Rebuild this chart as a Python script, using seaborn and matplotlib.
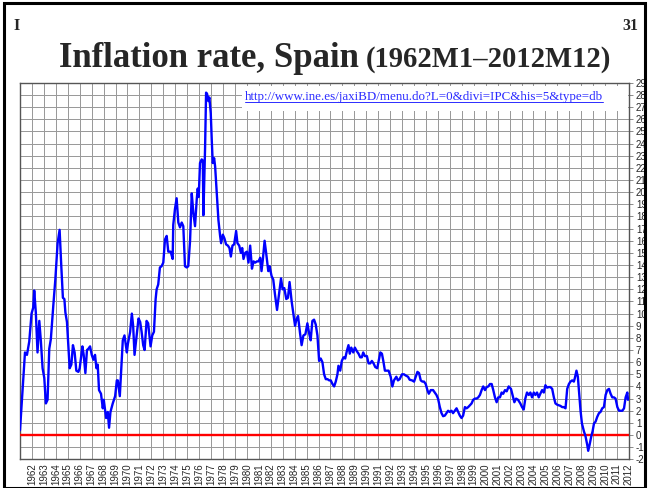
import matplotlib
matplotlib.use("Agg")
import matplotlib.pyplot as plt
import seaborn as sns
import pandas as pd
from matplotlib.patches import Rectangle
from matplotlib.lines import Line2D

# months since 1962M1 (vertices) and inflation rate, %
months = [
    0, 5, 7, 9.3, 11.6, 13.3, 14.3, 15.9, 17.6, 19.4, 21.0, 22.7, 24.4, 26.0, 27.7, 29.4,
    31.0, 33.5, 35.5, 37.8, 39.8, 41.5, 43.1, 44.6, 45.6, 47.2, 49.9, 51.6, 53.2, 54.9,
    56.6, 58.7, 60.0, 62.7, 64.0, 65.7, 67.3, 68.7, 70.4, 72.1, 73.8, 75.4, 76.8, 78.1,
    79.4, 81.4, 83.2, 84.2, 86.5, 88.2, 89.5, 90.9, 93.2, 95.6, 97.3, 98.3, 100.3, 103.3,
    105.0, 107.4, 108.4, 110.7, 112.4, 113.7, 115.1, 117.1, 119.1, 120.8,
    122.2, 123.8, 125.2, 127.2, 128.8, 131.2, 132.9, 134.6, 136.3, 137.3, 138.9, 140.6,
    142.3, 144.0, 145.7, 147.4, 149.0, 151.4, 153.4, 154.0, 155.7, 157.4, 159.1, 160.8,
    162.5, 164.1, 165.8, 167.5, 169.1, 170.9, 172.6, 174.2, 175.9, 177.6, 178.6, 179.6,
    180.9, 182.6, 183.7, 184.3, 186.0, 187.0, 188.0, 189.3, 190.3, 191.7, 192.7, 193.7,
    195.1, 196.1, 197.8, 199.4, 201.1, 202.1, 203.8, 205.4, 207.1, 208.9, 210.5, 211.9,
    213.5, 215.2, 217.2, 218.5, 220.3, 222.0, 223.3, 224.6, 226.3, 228.0, 229.6, 231.3,
    233.1, 234.7, 236.4, 238.1, 239.7, 241.4, 242.7, 244.1,
    245.8, 247.5, 249.5, 250.8, 252.8, 254.5, 256.2, 258.3, 260.3, 262.3, 263.9, 265.6,
    267.6, 269.3, 270.9, 273.0, 275.0, 276.4, 277.7, 279.4, 281.4, 283.0, 284.8, 286.8,
    288.8, 290.5, 292.1, 293.8, 295.5, 297.2, 298.9, 300.6, 302.2, 303.9, 305.6, 307.3,
    309.0, 310.7, 312.3, 314.0, 315.7, 317.3, 319.0, 320.0, 321.8, 323.4, 325.1, 326.8,
    328.4, 330.1, 331.4, 332.9, 334.9, 336.5, 338.5, 340.2, 341.9, 343.5, 344.9, 346.6,
    348.6, 350.3, 352.0, 353.6, 355.3, 357.0, 359.0, 360.4, 362.1, 363.7, 365.1, 366.7,
    368.1, 370.4, 372.5, 374.2, 375.8, 378.2, 379.8, 381.5, 383.9, 385.9, 387.6, 389.9,
    391.6, 394.0, 396.0, 397.7, 399.4, 401.0, 402.7, 404.4, 406.0, 407.7, 409.4, 410.8,
    412.8, 415.1, 416.8, 418.5, 420.1, 421.9, 423.6, 425.2, 426.9, 428.6, 430.2, 431.9,
    433.6, 435.2, 437.0, 438.7, 440.3, 442.0, 443.7, 445.3, 447.1, 448.8, 450.4, 452.1,
    453.8, 455.4, 457.2, 458.9, 460.5, 462.2, 463.9, 465.5, 467.3, 469.0, 470.6, 472.3,
    474.0, 475.6, 477.3, 479.0, 480.6, 482.3, 484.0, 485.6, 487.4, 489.1,
    491.1, 493.4, 495.5, 496.8, 498.5, 500.5, 502.8, 504.5, 506.2, 507.8, 509.5, 511.3,
    512.9, 514.6, 516.3, 517.9, 519.6, 521.3, 522.9, 524.7, 526.4, 528.0, 529.7, 531.4,
    533.0, 534.8, 536.5, 538.1, 539.8, 541.5, 543.1, 544.8, 546.5, 548.2, 549.9, 551.6,
    553.2, 554.9, 556.6, 557.6, 559.2, 560.6, 562.0, 563.3, 564.7, 566.7, 568.3, 570.0,
    571.0, 572.4, 574.1, 575.4, 576.8, 578.4, 580.1, 581.8, 583.4, 585.1, 586.8, 588.5,
    590.2, 591.9, 593.5, 595.2, 596.9, 598.5, 600.3, 602.0, 603.6, 605.3, 607.0, 608.6,
    610.3, 611,
]
rate = [
    0.4, 6.8, 6.6, 7.7, 10.0, 10.5, 11.9, 10.1, 6.8, 9.4, 7.7, 5.5, 4.7, 2.6, 2.9, 7.1,
    7.9, 10.7, 12.8, 15.8, 16.9, 13.9, 11.3, 11.2, 10.1, 9.3, 5.5, 5.8, 7.4, 6.8,
    5.3, 5.2, 5.5, 7.3, 6.6, 5.1, 7.0, 7.1, 7.3, 6.6, 6.2, 6.6, 5.5, 5.8,
    3.7, 3.4, 2.2, 2.9, 1.4, 1.9, 0.6, 1.9, 2.6, 3.2, 4.5, 4.5, 3.2, 7.8,
    8.2, 6.8, 7.5, 8.5, 10.0, 9.0, 6.6, 8.1, 9.6, 9.3,
    8.5, 7.4, 7.0, 9.4, 9.2, 7.3, 8.2, 8.5, 11.2, 12.0, 12.4, 13.8,
    13.9, 14.2, 16.1, 16.4, 15.1, 15.1, 14.5, 17.3, 18.6, 19.5, 17.5, 17.1,
    17.5, 17.2, 13.9, 13.8, 13.9, 16.0, 19.9, 18.3, 17.2, 19.4, 20.3, 19.6,
    22.4, 22.7, 22.6, 18.1, 23.7, 28.2, 28.1, 27.5, 27.8, 26.5, 24.3, 22.4,
    22.8, 22.1, 19.9, 17.7, 16.4, 15.8, 16.5, 16.2, 15.7, 15.6, 15.4, 14.7,
    15.6, 15.7, 16.8, 15.8, 15.6, 15.0, 15.4, 14.5, 15.0, 15.1, 14.2, 15.6,
    13.7, 14.3, 14.2, 14.3, 14.3, 14.6, 13.5, 14.5,
    16.0, 14.9, 13.5, 13.9, 13.1, 12.8, 11.6, 10.3, 11.6, 12.9, 12.0, 12.1,
    11.2, 11.3, 12.6, 11.0, 9.8, 9.0, 9.5, 9.8, 8.4, 7.4, 8.2, 8.3,
    9.2, 8.4, 7.8, 9.4, 9.5, 9.1, 8.2, 6.1, 6.3, 6.0, 5.0, 4.6,
    4.6, 4.5, 4.5, 4.2, 4.0, 4.4, 5.0, 5.7, 5.3, 6.1, 6.4, 6.3,
    6.9, 7.4, 6.7, 7.2, 6.8, 7.2, 6.9, 6.7, 6.4, 6.4, 6.8, 6.5,
    6.5, 5.9, 5.9, 6.1, 5.9, 5.6, 5.5, 6.1, 6.8, 6.7, 6.1, 5.3,
    5.3, 5.3, 4.8, 4.0, 4.5, 4.8, 4.5, 4.6, 5.0, 5.0, 4.9, 4.8,
    4.55, 4.5, 4.4, 4.8, 5.2, 5.1, 4.5, 4.4, 4.4, 4.2, 3.7, 3.4,
    3.7, 3.7, 3.5, 3.3, 3.0, 2.3, 1.8, 1.55, 1.6, 1.8, 2.0, 1.9,
    2.0, 1.8, 2.0, 2.2, 1.9, 1.6, 1.4, 1.6, 2.3, 2.2, 2.3, 2.45,
    2.6, 2.9, 3.0, 3.0, 3.1, 3.3, 3.7, 4.0, 3.7, 3.95, 4.0, 4.2,
    4.2, 3.7, 3.1, 2.7, 3.1, 3.1, 3.5, 3.4, 3.7, 3.6,
    4.0, 3.8, 3.1, 2.7, 3.0, 2.9, 2.6, 2.3, 2.1, 3.0, 3.5, 3.3,
    3.5, 3.1, 3.5, 3.3, 3.5, 3.1, 3.4, 3.7, 3.5, 4.1, 3.9, 3.95,
    3.95, 3.8, 3.1, 2.6, 2.5, 2.45, 2.4, 2.3, 2.3, 2.2, 3.8, 4.2,
    4.4, 4.5, 4.4, 4.7, 5.3, 4.8, 3.4, 2.0, 0.95, 0.3, -0.1, -0.8,
    -1.3, -0.8, -0.1, 0.3, 0.95, 1.1, 1.5, 1.8, 1.9, 2.2, 2.3, 3.3,
    3.7, 3.8, 3.4, 3.1, 3.1, 3.0, 2.3, 2.0, 2.0, 2.0, 2.2, 3.1,
    3.5, 2.9,
]
years = list(range(1962, 2013))
y_values = list(range(-2, 30))
url = "http://www.ine.es/jaxiBD/menu.do?L=0&divi=IPC&his=5&type=db"

df = pd.DataFrame({"month": months, "rate": rate})

sns.set_style("white")
plt.rcParams["font.family"] = ["Liberation Sans", "DejaVu Sans"]

W, H = 648, 488
fig = plt.figure(figsize=(W / 100, H / 100), dpi=100)
fig.patch.set_facecolor("white")

# slide frame
fig.add_artist(Rectangle((4 / W, 0), 641 / W, 1 - 2.5 / H, transform=fig.transFigure,
                         fill=False, edgecolor="black", lw=2.2))

ax = fig.add_axes([20 / W, 1 - 459.3 / H, 609 / W, (459.3 - 82.9) / H])
sns.lineplot(data=df, x="month", y="rate", ax=ax, color="#0000ff", lw=1.7,
             sort=False, estimator=None, zorder=4)
ax.axhline(0, color="#ff0000", lw=1.7, zorder=3)

ax.set_xlim(0, 612)
ax.set_ylim(-2, 29)
ax.set_xticks([12 * (i + 1) for i in range(len(years))])
ax.set_xticklabels([str(y) for y in years], rotation=90, fontsize=7)
ax.set_yticks(y_values)
ax.set_yticklabels([str(v) for v in y_values], fontsize=7)
ax.yaxis.tick_right()
ax.tick_params(axis="x", length=0, pad=3)
ax.tick_params(axis="y", length=3, width=0.6, color="#777777", pad=2)
ax.set_xlabel("")
ax.set_ylabel("")
ax.grid(True, color="#9a9a9a", lw=0.72)
for s in ax.spines.values():
    s.set_color("#555555")
    s.set_linewidth(1.0)

# white patch behind the source link
ax.add_patch(Rectangle((242 / W, 1 - 111 / H), (628 - 242) / W, 25 / H,
                       transform=fig.transFigure, facecolor="white", edgecolor="none", zorder=2.5))

t_url = fig.text(245 / W, 1 - 100 / H, url, color="#2b2bff", fontsize=9.4,
                 family="Liberation Serif", ha="left", va="baseline")

t1 = fig.text(59 / W, 1 - 67 / H, "Inflation rate, Spain", fontsize=25, fontweight="bold",
              family="Liberation Serif", ha="left", va="baseline")
fig.text(13 / W, 1 - 30 / H, "I", fontsize=11.5, fontweight="bold",
         family="Liberation Serif", ha="left", va="baseline")
fig.text(638 / W, 1 - 30 / H, "31", fontsize=11.5, fontweight="bold",
         family="Liberation Serif", ha="right", va="baseline")

fig.canvas.draw()
r = fig.canvas.get_renderer()
bb1 = t1.get_window_extent(r)
fig.text((bb1.x1 + 7) / W, 1 - 67 / H, "(1962M1\u20132012M12)", fontsize=20.6, fontweight="bold",
         family="Liberation Serif", ha="left", va="baseline")

bbu = t_url.get_window_extent(r)
uy = 1 - 101.5 / H
fig.add_artist(Line2D([bbu.x0 / W, bbu.x1 / W], [uy, uy], color="#2b2bff", lw=0.7,
                      transform=fig.transFigure))

fig.savefig("out.png", dpi=100)
